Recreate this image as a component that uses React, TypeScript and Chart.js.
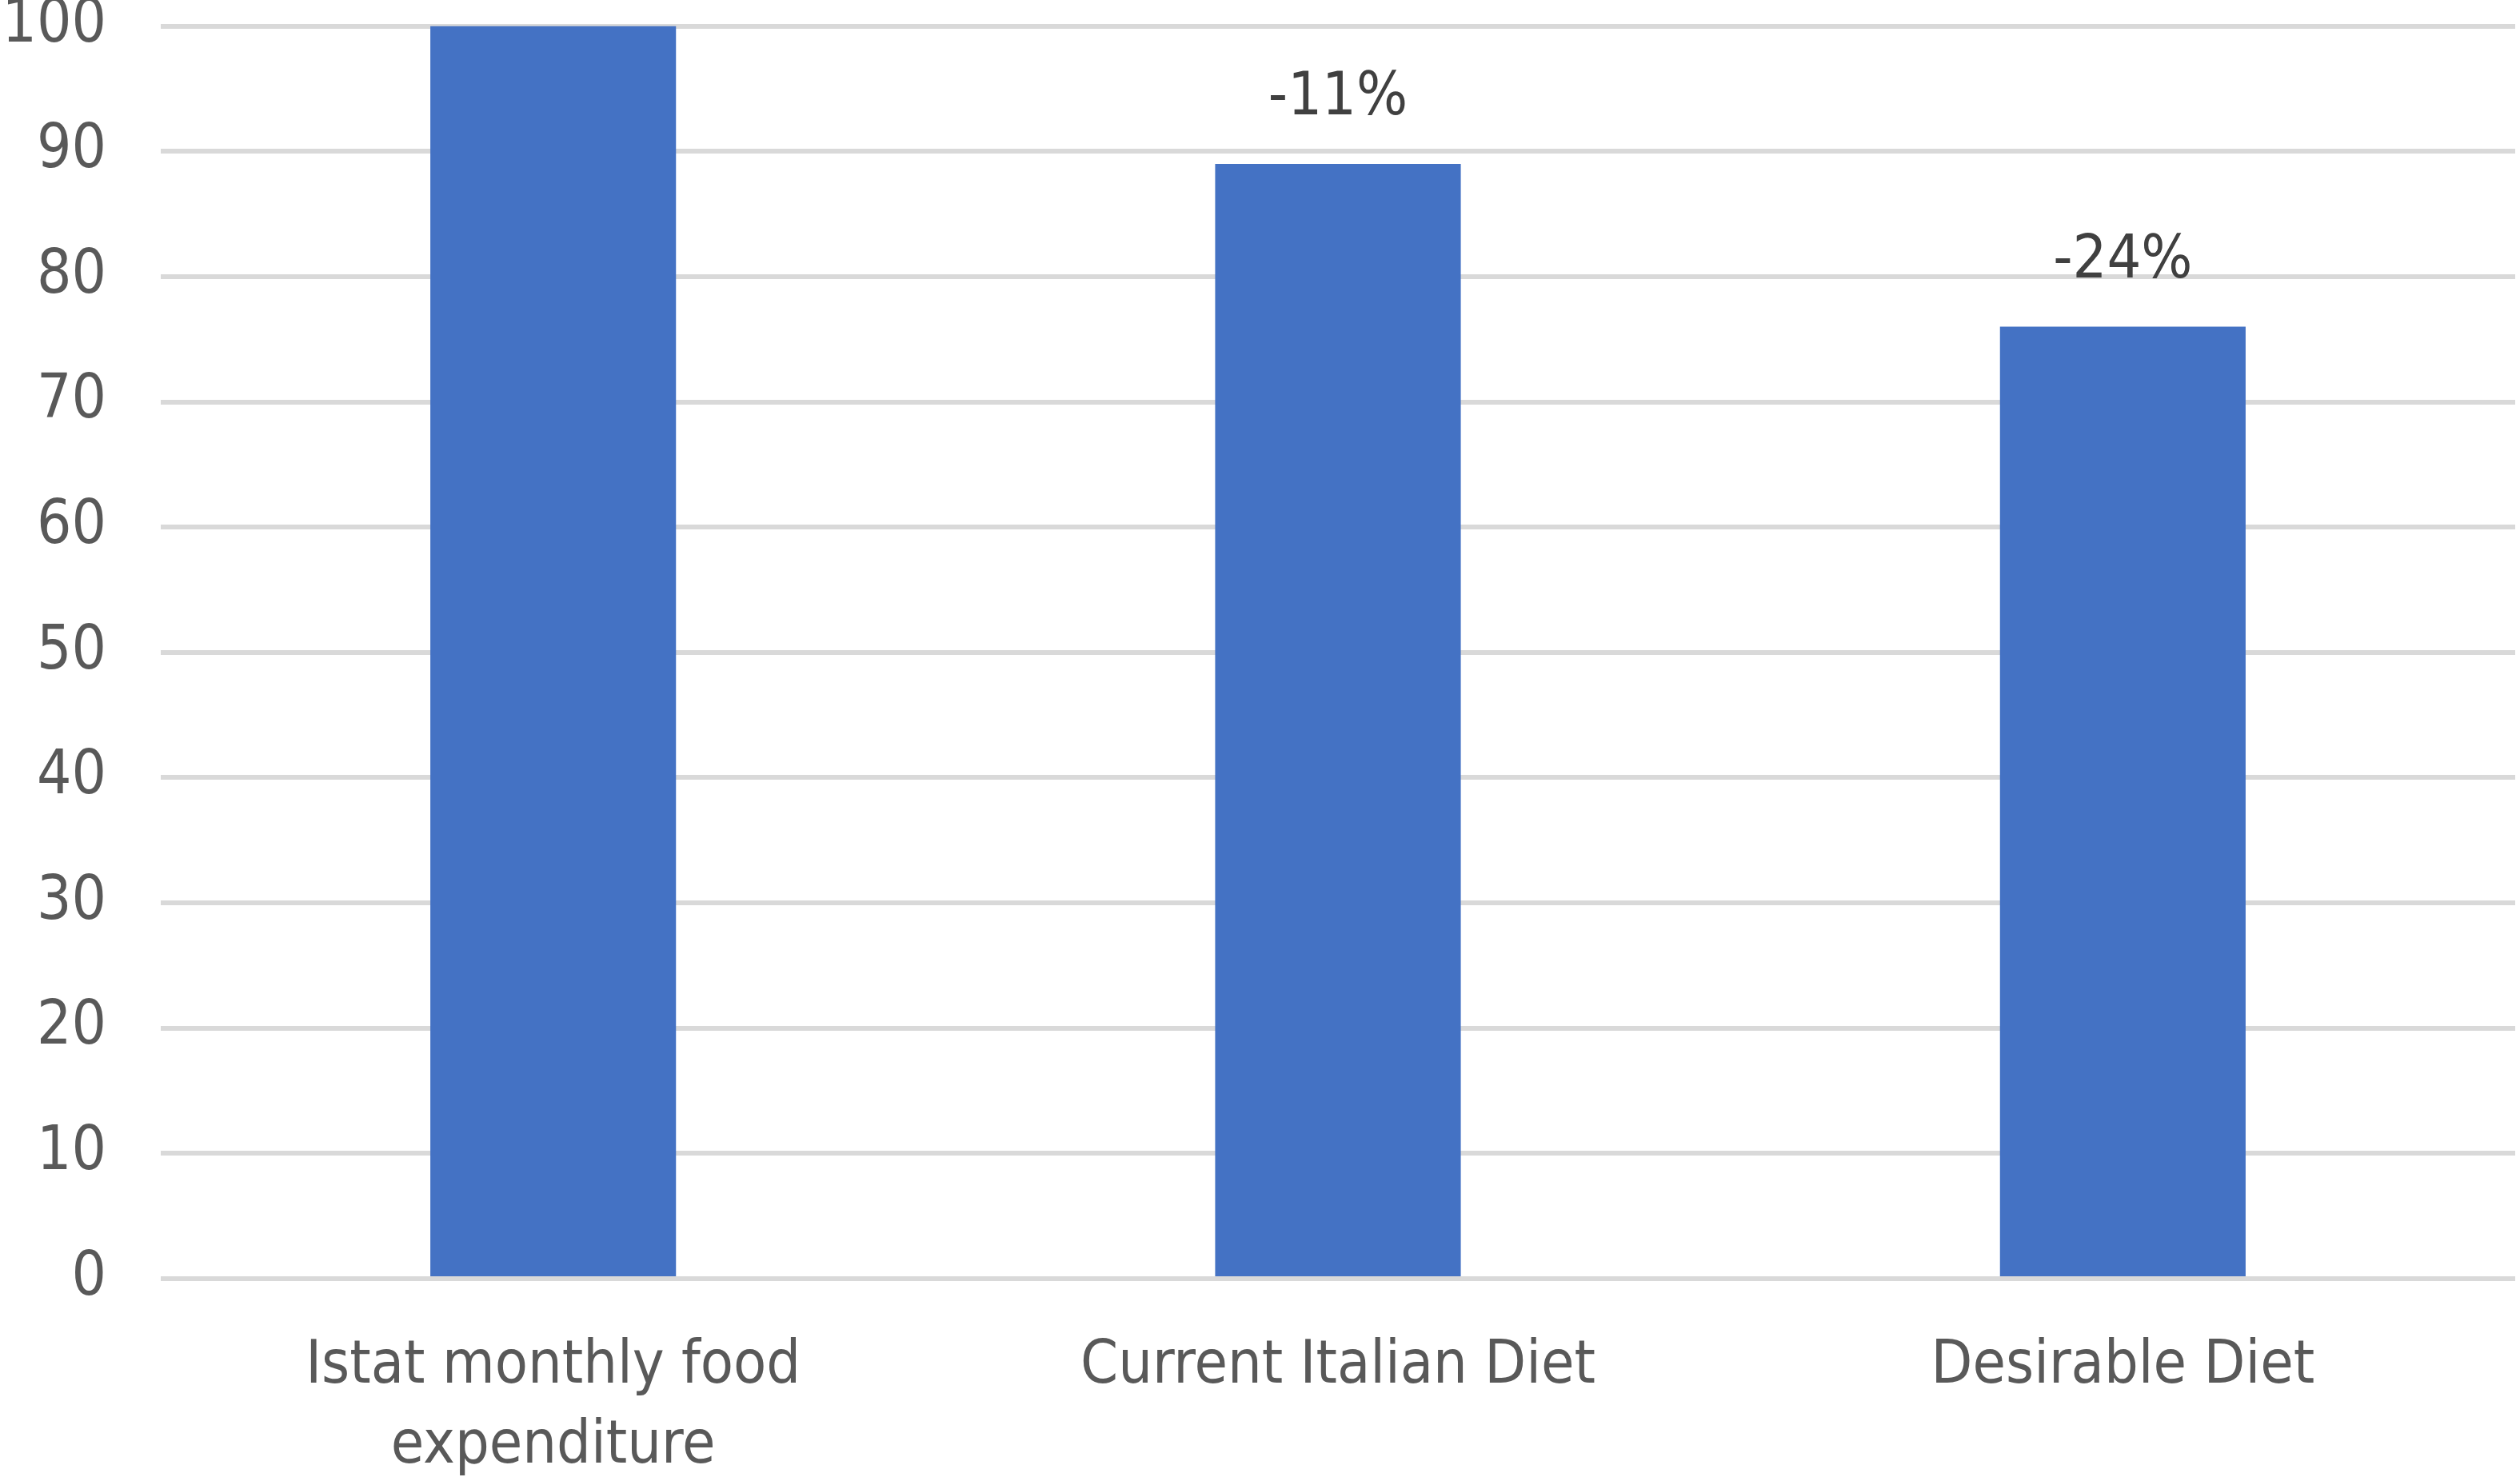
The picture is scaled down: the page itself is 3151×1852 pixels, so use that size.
import { useEffect, useRef } from "react";
import { Chart, registerables } from "chart.js";

Chart.register(...registerables);

const categories: (string | string[])[] = [
  ["Istat monthly food", "expenditure"],
  "Current Italian Diet",
  "Desirable Diet",
];
const values = [100, 89, 76];
const changeLabels = ["", "-11%", "-24%"];
const yTicks = [0, 10, 20, 30, 40, 50, 60, 70, 80, 90, 100];

const FONT = '"Liberation Sans Narrow", "DejaVu Sans Condensed", "Open Sans", sans-serif';
const TEXT = "#595959";

// canvas is drawn taller and shifted up so the 100 line sits near the top edge
const SHIFT = 81;
const W = 3151;
const H = 1852 + SHIFT;

const barLabels = {
  id: "barLabels",
  afterDatasetsDraw(chart: Chart) {
    const ctx = chart.ctx;
    const meta = chart.getDatasetMeta(0);
    ctx.save();
    ctx.font = `75px ${FONT}`;
    ctx.fillStyle = "#404040";
    ctx.textAlign = "center";
    ctx.textBaseline = "alphabetic";
    meta.data.forEach((bar: any, i: number) => {
      const txt = changeLabels[i];
      if (txt) ctx.fillText(txt, bar.x, bar.y - 62);
    });
    ctx.restore();
  },
};

export default function App() {
  const ref = useRef<HTMLCanvasElement>(null);

  useEffect(() => {
    document.body.style.margin = "0";
    if (!ref.current) return;
    const chart = new Chart(ref.current, {
      type: "bar",
      data: {
        labels: categories,
        datasets: [
          {
            data: values,
            backgroundColor: "#4472C4",
            barPercentage: 1,
            categoryPercentage: 0.313,
          },
        ],
      },
      options: {
        animation: false,
        responsive: false,
        devicePixelRatio: 1,
        layout: { padding: { top: 32, right: 6, bottom: 0, left: 0 } },
        plugins: { legend: { display: false }, tooltip: { enabled: false } },
        scales: {
          x: {
            grid: { display: false, drawTicks: false },
            border: { display: false },
            ticks: {
              color: TEXT,
              font: { family: FONT, size: 75, lineHeight: 1.34 },
              padding: 60,
              maxRotation: 0,
              autoSkip: false,
            },
            afterFit: (s: any) => {
              s.height = 253;
            },
          },
          y: {
            min: 0,
            max: 100,
            afterBuildTicks: (s: any) => {
              s.ticks = yTicks.map((v) => ({ value: v }));
            },
            grid: { color: "#d9d9d9", lineWidth: 6, drawTicks: false },
            border: { display: false },
            ticks: {
              color: TEXT,
              font: { family: FONT, size: 76 },
              padding: 68,
            },
            afterFit: (s: any) => {
              s.width = 201;
            },
          },
        },
      },
      plugins: [barLabels],
    });
    return () => chart.destroy();
  }, []);

  return (
    <div style={{ width: W, height: 1852, overflow: "hidden", background: "#fff" }}>
      <canvas ref={ref} width={W} height={H} style={{ display: "block", marginTop: -SHIFT }} />
    </div>
  );
}
